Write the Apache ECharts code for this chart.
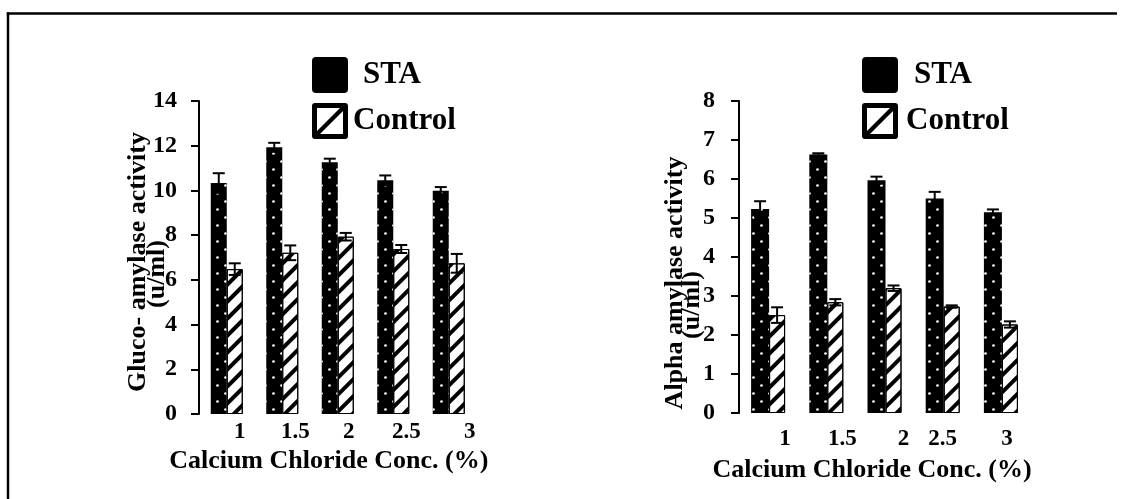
<!DOCTYPE html>
<html>
<head>
<meta charset="utf-8">
<script src="https://cdn.jsdelivr.net/npm/echarts@6/dist/echarts.min.js"></script>
<style>
html,body{margin:0;padding:0;background:#fff;}
#chart{width:1135px;height:499px;}
</style>
</head>
<body>
<div id="chart"></div>
<script>
// ---- data ----
var categories = ['1', '1.5', '2', '2.5', '3'];
var glucoSTA = [10.33, 11.93, 11.26, 10.45, 9.99];
var glucoSTAErr = [0.44, 0.2, 0.16, 0.22, 0.16];
var glucoControl = [6.48, 7.21, 7.93, 7.38, 6.74];
var glucoControlErr = [0.26, 0.33, 0.17, 0.18, 0.42];
var alphaSTA = [5.23, 6.63, 5.97, 5.5, 5.15];
var alphaSTAErr = [0.2, 0.03, 0.09, 0.17, 0.07];
var alphaControl = [2.51, 2.84, 3.2, 2.73, 2.27];
var alphaControlErr = [0.2, 0.08, 0.07, 0.03, 0.08];
var seriesNames = ['STA', 'Control'];
var xTitle = 'Calcium Chloride Conc. (%)';
var yTitleLeft = ['Gluco- amylase activity', '(u/ml)'];
var yTitleRight = ['Alpha amylase activity', '(u/ml)'];

// ---- styling ----
var FONT = "'Liberation Serif', 'Times New Roman', serif";
var labelShiftLeft = [13, 13, 11, 13, 21];
var labelShiftRight = [17, 16, 19, 0, 6];
var W = { L: [16, 16], R: [18, 16] };

function txt(size, extra) {
  var o = { fontFamily: FONT, fontWeight: 'bold', fontSize: size, color: '#000' };
  for (var k in extra) o[k] = extra[k];
  return o;
}
function richShift(shifts, size) {
  var r = {};
  shifts.forEach(function (s, i) { r['o' + i] = txt(size, { padding: [0, 0, 0, 2 * s] }); });
  return r;
}

var dotDecal = {
  symbol: 'circle', symbolSize: 0.9, color: '#fff',
  dashArrayX: [[3, 13], [0, 8, 3, 5]], dashArrayY: [3, 5]
};
var hatchDecal = {
  symbol: 'rect', symbolSize: 1, color: '#000',
  dashArrayX: [1, 0], dashArrayY: [3.5, 7.5], rotation: -Math.PI / 4
};
var noDecal = { color: 'rgba(0,0,0,0)', symbol: 'rect' };
var STA_ICON = 'path://M4,0H32Q36,0 36,4V32Q36,36 32,36H4Q0,36 0,32V4Q0,0 4,0Z';
var CONTROL_ICON = 'path://M3,0H33Q36,0 36,3V33Q36,36 33,36H3Q0,36 0,33V3Q0,0 3,0Z M5,5V31H31V5Z M5,28L28,5L31,5L31,8L8,31L5,31Z';

function errSeries(name, idx, vals, errs, offset) {
  return {
    type: 'custom', name: name, xAxisIndex: idx, yAxisIndex: idx, z: 5,
    data: vals.map(function (v, i) { return [i, v, errs[i]]; }),
    renderItem: function (params, api) {
      var x = api.value(0), v = api.value(1), e = api.value(2);
      var hi = api.coord([x, v + e]), lo = api.coord([x, v - e]);
      var cx = hi[0] + offset;
      var st = { stroke: '#000', lineWidth: 2 };
      return { type: 'group', children: [
        { type: 'line', shape: { x1: cx, y1: hi[1], x2: cx, y2: lo[1] }, style: st },
        { type: 'line', shape: { x1: cx - 6, y1: hi[1], x2: cx + 6, y2: hi[1] }, style: st },
        { type: 'line', shape: { x1: cx - 6, y1: lo[1], x2: cx + 6, y2: lo[1] }, style: st }
      ]};
    }
  };
}

function barPair(idx, sta, ctl, w) {
  return [
    { type: 'bar', name: seriesNames[0], xAxisIndex: idx, yAxisIndex: idx, data: sta,
      barWidth: w[0], barGap: '0%',
      itemStyle: { color: '#000', decal: dotDecal } },
    { type: 'bar', name: seriesNames[1], xAxisIndex: idx, yAxisIndex: idx, data: ctl,
      barWidth: w[1], barGap: '0%',
      itemStyle: { color: '#fff', borderColor: '#000', borderWidth: 1, decal: hatchDecal } }
  ];
}

function legendAt(left, gaps) {
  return {
    left: left, top: 57, padding: 0, orient: 'vertical', itemWidth: 36, itemHeight: 36, itemGap: 10,
    selectedMode: false, textStyle: txt(31),
    data: [
      { name: seriesNames[0], icon: STA_ICON,
        itemStyle: { color: '#000', borderWidth: 0, decal: noDecal },
        textStyle: txt(31, { padding: [0, 0, 0, gaps[0]] }) },
      { name: seriesNames[1], icon: CONTROL_ICON,
        itemStyle: { color: '#000', borderWidth: 0, decal: noDecal },
        textStyle: txt(31, { padding: [0, 0, 0, gaps[1]] }) }
    ]
  };
}

function xAxisCfg(idx, shifts, margin, nameGap, namePadR) {
  return {
    type: 'category', gridIndex: idx, data: categories,
    axisLine: { show: false }, axisTick: { show: false },
    axisLabel: { interval: 0, margin: margin,
      formatter: function (v, i) { return '{o' + i + '|' + v + '}'; },
      rich: richShift(shifts, 23), fontFamily: FONT, fontWeight: 'bold', fontSize: 23, color: '#000' },
    name: xTitle, nameLocation: 'middle', nameGap: nameGap, nameMoveOverlap: false,
    nameTextStyle: txt(26, { padding: [0, namePadR, 0, 0] })
  };
}

function yAxisCfg(idx, max, interval, margin, title, lh, gap, padA, padB) {
  return {
    type: 'value', gridIndex: idx, min: 0, max: max, interval: interval,
    splitLine: { show: false },
    axisLine: { show: true, lineStyle: { color: '#000', width: 2 } },
    axisTick: { show: true, length: 8, lineStyle: { color: '#000', width: 2 } },
    axisLabel: txt(24, { margin: margin }),
    name: '{a|' + title[0] + '}\n{b|' + title[1] + '}',
    nameLocation: 'middle', nameGap: gap, nameMoveOverlap: false,
    nameTextStyle: txt(26, { lineHeight: lh, rich: {
      a: txt(26, { lineHeight: lh, padding: [0, padA, 0, 0] }),
      b: txt(26, { lineHeight: lh, padding: [0, padB, 0, 0] })
    }})
  };
}

var chart = echarts.init(document.getElementById('chart'), null, { renderer: 'canvas' });
var option = {
  backgroundColor: '#fff',
  animation: false,
  grid: [
    { left: 199, top: 101, width: 277.5, height: 313 },
    { left: 739, top: 101, width: 291, height: 312 }
  ],
  legend: [legendAt(312, [10, 0]), legendAt(862, [11, 3])],
  xAxis: [
    xAxisCfg(0, labelShiftLeft, 6.5, 34, 18),
    xAxisCfg(1, labelShiftRight, 14.5, 44, 25)
  ],
  yAxis: [
    yAxisCfg(0, 14, 2, 22, yTitleLeft, 19, 32.5, 9, 33),
    yAxisCfg(1, 8, 1, 24, yTitleRight, 17, 38.5, 52, 96)
  ],
  series: [].concat(
    barPair(0, glucoSTA, glucoControl, W.L),
    barPair(1, alphaSTA, alphaControl, W.R),
    [
      errSeries('STA err L', 0, glucoSTA, glucoSTAErr, -W.L[1] / 2),
      errSeries('Control err L', 0, glucoControl, glucoControlErr, W.L[0] / 2),
      errSeries('STA err R', 1, alphaSTA, alphaSTAErr, -W.R[1] / 2),
      errSeries('Control err R', 1, alphaControl, alphaControlErr, W.R[0] / 2)
    ]
  ),
  graphic: [
    { type: 'line', shape: { x1: 8, y1: 12.5, x2: 8, y2: 499 }, style: { stroke: '#000', lineWidth: 2.5 } },
    { type: 'line', shape: { x1: 6.75, y1: 13.5, x2: 1117, y2: 13.5 }, style: { stroke: '#000', lineWidth: 2.5 } }
  ]
};
chart.setOption(option);
</script>
</body>
</html>
